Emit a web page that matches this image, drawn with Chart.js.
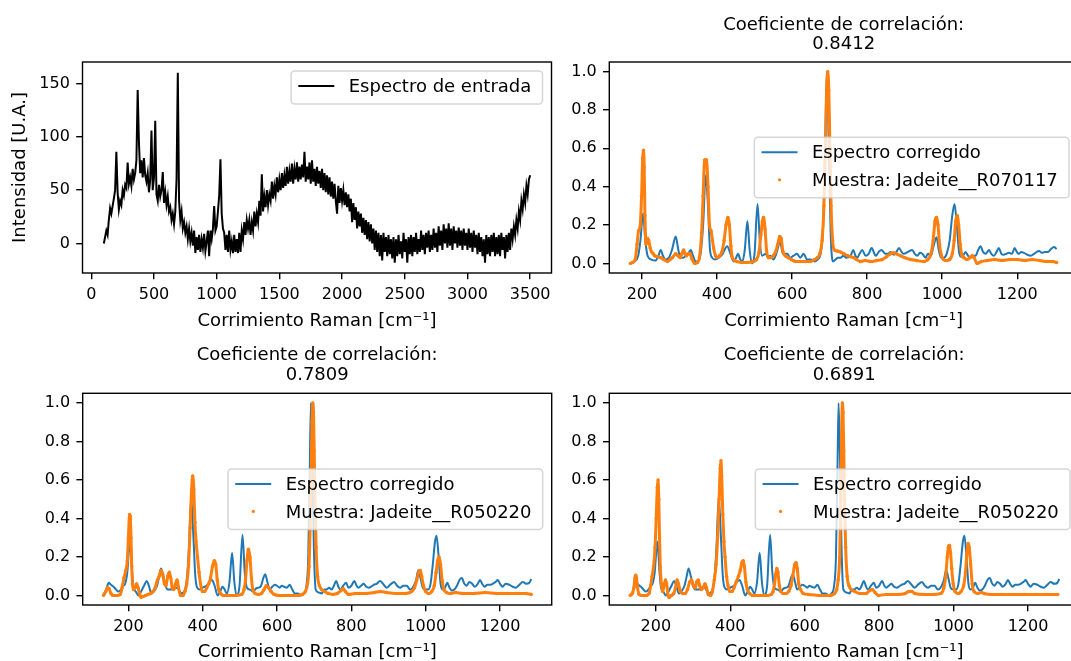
<!DOCTYPE html>
<html>
<head>
<meta charset="utf-8">
<script src="https://cdn.jsdelivr.net/npm/chart.js@4"></script>
<style>
    html, body { margin: 0; padding: 0; background: #fff; }
    body { width: 1071px; height: 661px; overflow: hidden; position: relative; }
    canvas { position: absolute; }
</style>
</head>
<body>
<canvas id="inputChart" width="560" height="335" style="left:0;top:0"></canvas>
<canvas id="matchChart1" width="530" height="335" style="left:560px;top:0"></canvas>
<canvas id="matchChart2" width="560" height="335" style="left:0;top:335px"></canvas>
<canvas id="matchChart3" width="530" height="335" style="left:560px;top:335px"></canvas>
<script>
// ---- data ----
const xLabel = 'Corrimiento Raman [cm\u207B\u00B9]';
const yLabel = 'Intensidad [U.A.]';
const titleLabel = 'Coeficiente de correlación:';
const correlations = ['0.8412', '0.7809', '0.6891'];
const sampleNames = ['Jadeite__R070117', 'Jadeite__R050220', 'Jadeite__R050220'];

const inputXTicks = [0, 500, 1000, 1500, 2000, 2500, 3000, 3500];
const inputYTicks = [0, 50, 100, 150];
const matchXTicks = [200, 400, 600, 800, 1000, 1200];
const matchYTicks = [0, 0.2, 0.4, 0.6, 0.8, 1.0];

// input spectrum (raw, noisy)
const inputSpectrum = [
    [100,0],[110,6],[120,12],[130,8],[140,22],[150,33],[160,28],[170,35],[180,42],[190,50],
    [200,86],[210,48],[220,32],[230,40],[240,36],[250,50],[260,45],[270,55],[280,52],[290,76],
    [300,56],[310,62],[320,54],[330,70],[340,60],[350,66],[360,78],[370,144],[380,95],[390,66],
    [400,78],[410,62],[420,80],[430,64],[440,58],[450,66],[460,48],[470,60],[480,106],[490,50],
    [500,62],[510,115],[520,46],[530,40],[540,55],[550,44],[560,50],[570,67],[580,38],[590,48],
    [600,36],[610,44],[620,30],[630,34],[640,22],[650,28],[660,18],[670,30],[680,60],[690,160],
    [700,40],[710,22],[720,30],[730,14],[740,20],[750,10],[760,16],[770,4],[780,14],[790,2],
    [800,10],[810,-2],[820,12],[830,-9],[840,6],[850,-6],[860,8],[870,-8],[880,4],[890,-4],
    [900,9],[910,-7],[920,2],[930,12],[940,-12],[950,12],[960,4],[970,14],[980,35],[990,12],
    [1000,16],[1010,30],[1020,45],[1030,79],[1040,28],[1050,14],[1060,10],[1070,-6],[1080,8],[1090,-8],
    [1100,12],[1110,-6],[1120,2],[1130,-9],[1140,8],[1150,-8],[1160,4],[1170,-9],[1180,10],[1190,-8],
    [1200,12],[1210,4],[1220,20],[1230,8],[1240,22],[1250,14],
    [1260,22],[1270,8],[1280,20],[1290,12],[1300,30],[1310,16],[1320,28],[1330,20],[1340,40],[1350,26],
    [1360,65],[1370,30],[1380,44],[1390,34],[1400,50],[1410,36],[1420,46],[1430,40],[1440,58],[1450,42],
    [1460,54],[1470,46],[1480,62],[1490,48],[1500,60],[1510,50],[1520,66],[1530,52],[1540,64],[1550,54],
    [1560,72],[1570,56],[1580,68],[1590,58],[1600,75],[1610,56],[1620,70],[1630,60],[1640,76],[1650,58],
    [1660,72],[1670,60],[1680,74],[1690,62],[1700,86],[1710,58],[1720,72],[1730,60],[1740,76],[1750,56],
    [1760,78],[1770,58],[1780,70],[1790,54],[1800,72],[1810,56],[1820,68],[1830,52],[1840,70],[1850,50],
    [1860,66],[1870,48],[1880,64],[1890,46],[1900,62],[1910,44],[1920,58],[1930,42],[1940,56],[1950,40],
    [1960,28],[1970,54],[1980,38],[1990,52],[2000,40],[2010,50],[2020,36],[2030,48],[2040,34],[2050,46],
    [2060,30],[2070,42],[2080,20],[2090,38],[2100,22],[2110,34],[2120,14],[2130,30],[2140,16],[2150,28],
    [2160,10],[2170,24],[2180,8],[2190,22],[2200,4],[2210,20],[2220,2],[2230,18],[2240,0],[2250,14],
    [2260,-6],[2270,12],[2280,-8],[2290,10],[2300,-12],[2310,8],[2320,-16],[2330,10],[2340,-8],[2350,6],
    [2360,-12],[2370,8],[2380,-10],[2390,4],[2400,-14],[2410,6],[2420,-18],[2430,4],[2440,-12],[2450,8],
    [2460,-10],[2470,2],[2480,-14],[2490,10],[2500,-8],[2510,4],[2520,-18],[2530,6],[2540,-10],[2550,8],
    [2560,-12],[2570,6],[2580,-8],[2590,10],[2600,-10],[2610,4],[2620,-8],[2630,12],[2640,-6],[2650,8],
    [2660,-10],[2670,10],[2680,-4],[2690,12],[2700,-8],[2710,8],[2720,-6],[2730,14],[2740,-4],[2750,10],
    [2760,-8],[2770,16],[2780,-2],[2790,12],[2800,-6],[2810,18],[2820,0],[2830,14],[2840,-4],[2850,19],
    [2860,-2],[2870,14],[2880,-6],[2890,16],[2900,0],[2910,12],[2920,-4],[2930,15],[2940,-2],[2950,12],
    [2960,-6],[2970,14],[2980,-2],[2990,10],[3000,-6],[3010,14],[3020,-4],[3030,10],[3040,-8],[3050,12],
    [3060,-4],[3070,8],[3080,-10],[3090,10],[3100,-8],[3110,6],[3120,-12],[3130,4],[3140,-18],[3150,8],
    [3160,-10],[3170,6],[3180,-12],[3190,8],[3200,-8],[3210,10],[3220,-12],[3230,6],[3240,-10],[3250,8],
    [3260,-12],[3270,10],[3280,-6],[3290,6],[3300,-14],[3310,8],[3320,-8],[3330,10],[3340,-6],[3350,14],
    [3360,4],[3370,16],[3380,8],[3390,22],[3400,14],[3410,30],[3420,22],[3430,40],[3440,32],[3450,46],
    [3460,38],[3470,54],[3480,46],[3490,60],[3500,64]
];

// corrected spectrum, range used against R070117
const correctedA = [
    [170,0],[180,0.01],[190,0.04],[196,0.12],[203,0.26],[209,0.12],[215,0.04],[225,0.02],[236,0.015],[244,0.04],
    [250,0.07],[256,0.04],[263,0.02],[272,0.03],[280,0.07],[290,0.14],[297,0.07],[303,0.03],[310,0.03],[317,0.04],
    [323,0.05],[330,0.07],[336,0.04],[343,0.01],[350,0.01],[357,0.06],[363,0.2],[370,0.46],[376,0.3],[381,0.08],
    [387,0.03],[395,0.02],[405,0.03],[415,0.05],[427,0.09],[436,0.05],[444,0.01],[451,0.03],[456,0.05],[462,0.02],
    [468,0.01],[474,0.07],[481,0.22],[487,0.07],[493,0],[500,0.05],[508,0.31],[514,0.12],[520,0.04],[530,0.05],
    [536,0.03],[542,0.04],[550,0.02],[558,0.05],[568,0.11],[576,0.05],[587,0.05],[595,0.03],[604,0.04],[613,0.05],
    [622,0.03],[631,0.05],[640,0.02],[650,0.02],[660,0.01],[668,0.02],[676,0.05],[683,0.2],[688,0.6],[693,1.0],
    [698,0.6],[703,0.15],[709,0.01],[716,0.02],[722,0.03],[729,0.03],[737,0.04],[745,0.03],[756,0.04],[763,0.07],
    [769,0.04],[774,0.03],[780,0.05],[787,0.07],[796,0.04],[804,0.05],[812,0.08],[823,0.04],[831,0.06],[838,0.07],
    [849,0.05],[856,0.05],[862,0.06],[871,0.045],[878,0.06],[885,0.08],[892,0.06],[898,0.05],[909,0.06],[920,0.07],
    [927,0.05],[934,0.04],[941,0.055],[947,0.05],[956,0.03],[962,0.05],[970,0.04],[977,0.09],[985,0.136],[991,0.07],
    [997,0.03],[1004,0.03],[1012,0.05],[1020,0.12],[1027,0.25],[1033,0.31],[1039,0.2],[1045,0.06],[1050,0.035],[1056,0.04],
    [1062,0.06],[1069,0.04],[1076,0.03],[1082,0.04],[1089,0.04],[1096,0.07],[1102,0.09],[1109,0.06],[1116,0.05],[1125,0.07],
    [1131,0.05],[1138,0.04],[1145,0.06],[1151,0.08],[1158,0.05],[1164,0.045],[1171,0.05],[1178,0.055],[1186,0.05],[1193,0.08],
    [1199,0.06],[1204,0.05],[1211,0.06],[1218,0.055],[1227,0.045],[1236,0.04],[1245,0.05],[1252,0.06],[1258,0.065],[1266,0.055],
    [1274,0.06],[1282,0.06],[1290,0.075],[1298,0.085],[1305,0.075]
];

// reference R070117
const sampleA = [
    [169,0],[175,0.005],[182,0.02],[187,0.1],[191,0.17],[195,0.19],[199,0.35],[202,0.55],[204,0.59],[206,0.5],
    [208,0.25],[211,0.1],[215,0.13],[218,0.12],[222,0.08],[226,0.06],[230,0.05],[234,0.04],[242,0.035],[250,0.03],
    [258,0.02],[268,0.01],[275,0.02],[281,0.03],[290,0.05],[296,0.04],[302,0.03],[306,0.05],[311,0.07],[315,0.05],
    [319,0.04],[324,0.05],[328,0.05],[334,0.02],[341,0],[348,0.005],[353,0.03],[359,0.16],[363,0.35],[367,0.54],
    [372,0.54],[376,0.4],[380,0.2],[384,0.17],[388,0.12],[391,0.08],[396,0.04],[400,0.03],[407,0.04],[413,0.06],
    [419,0.12],[424,0.2],[429,0.24],[433,0.2],[437,0.09],[441,0.03],[447,0.015],[453,0.01],[465,0.005],[480,0.005],
    [497,0.01],[505,0.02],[512,0.06],[517,0.15],[521,0.22],[524,0.24],[528,0.18],[532,0.07],[537,0.03],[544,0.03],
    [550,0.04],[556,0.06],[562,0.1],[567,0.14],[571,0.13],[576,0.06],[582,0.04],[590,0.03],[598,0.02],[610,0.01],
    [622,0.01],[635,0.01],[649,0.01],[660,0.02],[667,0.03],[674,0.05],[680,0.12],[685,0.3],[689,0.6],[692,0.9],
    [695,1.0],[698,0.9],[701,0.6],[704,0.3],[708,0.12],[713,0.07],[720,0.065],[728,0.06],[738,0.05],[748,0.04],
    [756,0.035],[764,0.03],[772,0.02],[782,0.01],[795,0.015],[810,0.01],[825,0.015],[840,0.02],[852,0.035],[862,0.05],
    [870,0.055],[878,0.05],[889,0.04],[900,0.03],[916,0.02],[932,0.015],[952,0.01],[962,0.02],[970,0.05],[976,0.12],
    [981,0.22],[985,0.24],[989,0.2],[993,0.1],[998,0.04],[1004,0.02],[1012,0.015],[1020,0.02],[1027,0.05],[1032,0.12],
    [1036,0.22],[1040,0.25],[1044,0.2],[1048,0.1],[1053,0.04],[1058,0.03],[1066,0.02],[1074,0.03],[1080,0.04],[1085,0.03],
    [1093,0],[1105,0.01],[1120,0.015],[1140,0.02],[1160,0.015],[1180,0.02],[1200,0.02],[1220,0.015],[1240,0.02],[1260,0.015],
    [1280,0.01],[1295,0.01],[1305,0.005]
];

// corrected spectrum, range used against R050220 (both lower panels)
const correctedB = [
    [133,0],[140,0.03],[147,0.065],[153,0.055],[160,0.045],[167,0.03],[173,0.02],[180,0.03],[186,0.05],[191,0.06],
    [197,0.12],[204,0.28],[210,0.12],[214,0.04],[220,0.02],[227,0],[234,0.02],[242,0.05],[249,0.075],[255,0.05],
    [262,0.01],[270,0.025],[277,0.05],[283,0.1],[288,0.14],[294,0.1],[300,0.05],[306,0.03],[314,0.03],[322,0.035],
    [330,0.04],[337,0.025],[343,0.01],[350,0.02],[357,0.08],[363,0.25],[369,0.51],[375,0.3],[380,0.1],[385,0.04],
    [392,0.03],[400,0.04],[410,0.05],[418,0.07],[425,0.08],[432,0.05],[440,0],[447,0.02],[453,0.045],[459,0.03],
    [465,0.01],[472,0.07],[479,0.22],[485,0.07],[491,0],[499,0.05],[507,0.315],[513,0.12],[519,0.04],[527,0.03],
    [536,0.02],[543,0.035],[550,0.04],[557,0.05],[563,0.09],[568,0.11],[574,0.07],[580,0.03],[587,0.045],[594,0.055],
    [600,0.05],[607,0.04],[613,0.05],[619,0.045],[626,0.04],[634,0.055],[641,0.03],[648,0.01],[656,0.01],[664,0],
    [672,0.01],[679,0.05],[684,0.2],[688,0.65],[691,1.0],[695,0.7],[699,0.25],[704,0.03],[712,0.015],[720,0.01],
    [727,0.03],[733,0.03],[740,0.04],[747,0.03],[753,0.05],[759,0.075],[765,0.045],[770,0.03],[778,0.05],[786,0.065],
    [792,0.04],[800,0.05],[808,0.075],[814,0.05],[819,0.04],[826,0.05],[833,0.06],[840,0.045],[847,0.04],[853,0.045],
    [860,0.055],[868,0.06],[877,0.075],[885,0.06],[895,0.04],[904,0.055],[915,0.07],[923,0.05],[931,0.04],[940,0.05],
    [949,0.05],[958,0.03],[965,0.04],[974,0.08],[980,0.13],[986,0.09],[992,0.04],[999,0.03],[1006,0.03],[1013,0.06],
    [1019,0.16],[1025,0.28],[1029,0.31],[1034,0.22],[1040,0.06],[1046,0.03],[1052,0.04],[1058,0.065],[1064,0.04],[1070,0.025],
    [1077,0.03],[1084,0.05],[1091,0.08],[1097,0.09],[1104,0.06],[1110,0.05],[1118,0.07],[1125,0.06],[1132,0.045],[1140,0.06],
    [1146,0.08],[1152,0.06],[1158,0.045],[1166,0.055],[1174,0.055],[1180,0.06],[1188,0.07],[1194,0.08],[1200,0.06],[1207,0.045],
    [1215,0.06],[1225,0.055],[1234,0.045],[1243,0.04],[1252,0.055],[1261,0.07],[1270,0.06],[1279,0.065],[1284,0.085]
];

// reference R050220, lower left panel
const sampleB = [
    [133,0],[139,0.02],[144,0.04],[148,0.035],[153,0.01],[158,0],[170,0],[178,0.005],[183,0.04],[188,0.09],
    [193,0.13],[197,0.18],[200,0.3],[203,0.42],[205,0.41],[207,0.3],[209,0.15],[211,0.06],[214,0.03],[218,0.04],
    [222,0.06],[226,0.04],[230,0.01],[234,-0.01],[240,-0.005],[246,0],[253,0.005],[260,0.01],[266,0.02],[272,0.04],
    [278,0.08],[283,0.1],[288,0.13],[292,0.11],[297,0.06],[301,0.05],[306,0.1],[310,0.12],[314,0.09],[318,0.04],
    [322,0.03],[327,0.06],[331,0.08],[335,0.04],[340,0],[347,0],[352,0.02],[357,0.06],[362,0.16],[366,0.35],
    [370,0.55],[373,0.62],[376,0.55],[379,0.38],[382,0.28],[386,0.2],[390,0.12],[394,0.06],[399,0.02],[405,0.02],
    [411,0.04],[416,0.06],[421,0.09],[426,0.15],[431,0.18],[435,0.16],[439,0.08],[443,0.03],[448,0.01],[455,0],
    [470,0],[490,0],[505,0.005],[511,0.03],[515,0.08],[519,0.18],[523,0.24],[527,0.2],[531,0.09],[535,0.03],
    [541,0.01],[550,0.005],[558,0.01],[565,0.03],[571,0.05],[577,0.04],[584,0.02],[592,0.005],[605,0],[630,0],
    [655,0],[668,0.005],[676,0.02],[682,0.06],[686,0.15],[689,0.35],[692,0.65],[694,0.9],[696,1.0],[698,0.95],
    [700,0.75],[702,0.5],[705,0.25],[709,0.1],[714,0.05],[720,0.03],[728,0.02],[738,0.01],[750,0.005],[762,0.01],
    [772,0.025],[778,0.035],[784,0.02],[792,0.005],[810,0.01],[840,0.01],[862,0.015],[878,0.02],[894,0.015],[920,0.01],
    [945,0.01],[962,0.02],[970,0.04],[976,0.08],[981,0.12],[985,0.13],[989,0.1],[994,0.05],[1000,0.02],[1008,0.01],
    [1016,0.02],[1023,0.05],[1028,0.12],[1032,0.18],[1036,0.2],[1040,0.16],[1044,0.08],[1049,0.03],[1056,0.015],[1066,0.01],
    [1080,0.015],[1100,0.01],[1130,0.01],[1160,0.015],[1190,0.01],[1220,0.01],[1250,0.01],[1270,0.01],[1284,0.005]
];

// reference R050220, lower right panel
const sampleC = [
    [131,0],[137,0.01],[141,0.04],[144,0.09],[146,0.105],[148,0.09],[151,0.04],[155,0.005],[162,0],[175,0],
    [182,0.01],[186,0.05],[190,0.1],[194,0.15],[198,0.25],[201,0.4],[204,0.56],[206,0.6],[208,0.5],[210,0.3],
    [212,0.15],[215,0.06],[218,0.02],[222,0.05],[226,0.08],[229,0.06],[233,0],[236,-0.01],[242,0],[248,0.01],
    [253,0.04],[257,0.08],[261,0.06],[266,0.02],[272,0.01],[279,0.01],[285,0.03],[291,0.07],[296,0.08],[301,0.05],
    [306,0.04],[310,0.07],[314,0.08],[318,0.05],[322,0.03],[327,0.04],[332,0.06],[336,0.04],[341,0.005],[347,0],
    [352,0.02],[357,0.08],[362,0.16],[366,0.3],[370,0.5],[373,0.66],[375,0.7],[377,0.62],[380,0.42],[383,0.28],
    [386,0.2],[390,0.1],[394,0.05],[399,0.02],[405,0.02],[410,0.04],[416,0.07],[422,0.1],[427,0.13],[431,0.17],
    [435,0.18],[438,0.15],[442,0.07],[446,0.03],[452,0.01],[460,0],[480,0],[500,0],[510,0.005],[515,0.02],
    [519,0.06],[522,0.11],[525,0.14],[528,0.12],[532,0.05],[536,0.02],[542,0.01],[550,0.01],[557,0.02],[563,0.05],
    [568,0.1],[573,0.16],[577,0.17],[580,0.14],[584,0.06],[589,0.03],[596,0.01],[610,0.005],[640,0],[670,0],
    [680,0.01],[686,0.03],[690,0.08],[694,0.2],[697,0.5],[699,0.8],[701,1.0],[703,0.95],[705,0.75],[707,0.5],
    [710,0.25],[714,0.1],[719,0.05],[725,0.03],[735,0.02],[748,0.01],[765,0.01],[775,0.025],[782,0.03],[789,0.015],
    [798,0],[820,0.005],[850,0.005],[870,0.01],[880,0.02],[888,0.02],[896,0.01],[920,0.005],[950,0.005],[966,0.01],
    [974,0.04],[979,0.1],[983,0.2],[986,0.25],[989,0.26],[992,0.22],[995,0.14],[999,0.06],[1004,0.02],[1012,0.01],
    [1020,0.02],[1027,0.05],[1032,0.12],[1036,0.22],[1039,0.27],[1042,0.25],[1046,0.16],[1050,0.06],[1055,0.02],[1065,0.01],
    [1075,0.015],[1082,0.01],[1100,0.005],[1130,0.005],[1160,0.005],[1190,0.005],[1220,0.005],[1250,0.005],[1280,0.005]
];

// ---- styling ----
const BLUE = '#1f77b4';
const ORANGE = '#ff7f0e';
const FONT = '"DejaVu Sans", "Liberation Sans", sans-serif';
Chart.defaults.font.family = FONT;
Chart.defaults.color = '#000';

const toPoints = arr => arr.map(p => ({ x: p[0], y: p[1] }));

// full box around the axes (matplotlib spines)
const axesFrame = {
    id: 'axesFrame',
    afterDatasetsDraw(chart) {
        const { ctx, chartArea: a } = chart;
        ctx.save();
        ctx.strokeStyle = '#000';
        ctx.lineWidth = 1.4;
        ctx.strokeRect(a.left, a.top, a.right - a.left, a.bottom - a.top);
        ctx.restore();
    }
};

// legend drawn inside the plot area, like matplotlib's
const boxLegend = {
    id: 'boxLegend',
    afterDraw(chart, args, opts) {
        if (!opts || !opts.items) return;
        const { ctx, chartArea: a } = chart;
        const fs = opts.fontSize || 18;
        const pad = 0.4 * fs, handle = 2 * fs, gap = 0.8 * fs;
        const rowH = 1.03 * fs, spacing = 0.5 * fs, margin = 0.5 * fs;
        ctx.save();
        ctx.font = fs + 'px ' + FONT;
        const tw = Math.max(...opts.items.map(it => ctx.measureText(it.label).width));
        const w = 2 * pad + handle + gap + tw + 4;
        const h = 2 * pad + opts.items.length * rowH + (opts.items.length - 1) * spacing;
        const x = a.right - margin - w;
        const y = opts.loc === 'upper right' ? a.top + margin : (a.top + a.bottom) / 2 - h / 2;
        const r = 0.2 * fs;

        ctx.beginPath();
        ctx.moveTo(x + r, y);
        ctx.arcTo(x + w, y, x + w, y + h, r);
        ctx.arcTo(x + w, y + h, x, y + h, r);
        ctx.arcTo(x, y + h, x, y, r);
        ctx.arcTo(x, y, x + w, y, r);
        ctx.closePath();
        ctx.fillStyle = 'rgba(255,255,255,0.8)';
        ctx.fill();
        ctx.strokeStyle = 'rgba(204,204,204,0.8)';
        ctx.lineWidth = 1.5;
        ctx.stroke();

        opts.items.forEach((it, i) => {
            const cy = y + pad + i * (rowH + spacing) + rowH / 2;
            const hx = x + pad;
            if (it.kind === 'line') {
                ctx.beginPath();
                ctx.moveTo(hx, cy - 1.5);
                ctx.lineTo(hx + handle, cy - 1.5);
                ctx.strokeStyle = it.color;
                ctx.lineWidth = 2;
                ctx.stroke();
            } else {
                ctx.beginPath();
                ctx.arc(hx + handle / 2, cy - 1.5, 1.6, 0, Math.PI * 2);
                ctx.fillStyle = it.color;
                ctx.fill();
            }
            ctx.fillStyle = '#000';
            ctx.textBaseline = 'middle';
            ctx.textAlign = 'left';
            ctx.fillText(it.label, hx + handle + gap, cy);
        });
        ctx.restore();
    }
};

function buildChart(canvasId, cfg) {
    const ctx = document.getElementById(canvasId).getContext('2d');
    return new Chart(ctx, {
        type: 'scatter',
        data: { datasets: cfg.datasets },
        options: {
            responsive: false,
            devicePixelRatio: 1,
            animation: false,
            events: [],
            layout: { padding: cfg.padding },
            plugins: {
                legend: { display: false },
                tooltip: { enabled: false },
                title: cfg.title ? {
                    display: true,
                    text: cfg.title,
                    fullSize: false,
                    color: '#000',
                    font: { size: 18, weight: 'normal', lineHeight: 1.1 },
                    padding: cfg.titlePadding
                } : { display: false },
                boxLegend: cfg.legend
            },
            scales: {
                x: {
                    type: 'linear',
                    min: cfg.xRange[0],
                    max: cfg.xRange[1],
                    afterBuildTicks: s => { s.ticks = cfg.xTicks.map(v => ({ value: v })); },
                    afterFit: s => { s.height = cfg.xAxisHeight; },
                    ticks: { font: { size: 16 }, color: '#000', padding: 6.3, maxRotation: 0, autoSkip: false, callback: v => String(v) },
                    grid: { drawOnChartArea: false, drawTicks: true, tickLength: 6.3, color: '#000', lineWidth: 1.4 },
                    border: { display: false },
                    title: { display: true, text: xLabel, color: '#000', font: { size: 18 }, padding: { top: 0, bottom: cfg.xTitlePad } }
                },
                y: {
                    type: 'linear',
                    min: cfg.yRange[0],
                    max: cfg.yRange[1],
                    afterBuildTicks: s => { s.ticks = cfg.yTicks.map(v => ({ value: v })); },
                    afterFit: s => { s.width = cfg.yAxisWidth; },
                    ticks: { font: { size: 16 }, color: '#000', padding: 6.3, autoSkip: false, callback: cfg.yFormat },
                    grid: { drawOnChartArea: false, drawTicks: true, tickLength: 6.3, color: '#000', lineWidth: 1.4 },
                    border: { display: false },
                    title: cfg.yTitle ? { display: true, text: cfg.yTitle, color: '#000', font: { size: 18 }, padding: { top: 9.2, bottom: 0 } } : { display: false }
                }
            }
        },
        plugins: [axesFrame, boxLegend]
    });
}

function correctedSet(points) {
    return {
        label: 'Espectro corregido',
        data: toPoints(points),
        showLine: true,
        borderColor: BLUE,
        borderWidth: 2,
        pointRadius: 0,
        cubicInterpolationMode: 'monotone',
        order: 1
    };
}

function sampleSet(points, name) {
    return {
        label: 'Muestra: ' + name,
        data: toPoints(points),
        showLine: true,
        borderColor: ORANGE,
        backgroundColor: ORANGE,
        borderWidth: 3,
        pointRadius: 1.7,
        pointBorderWidth: 0,
        cubicInterpolationMode: 'monotone',
        order: 0
    };
}

function matchLegend(name) {
    return {
        loc: 'center right',
        fontSize: 18,
        items: [
            { label: 'Espectro corregido', kind: 'line', color: BLUE },
            { label: 'Muestra: ' + name, kind: 'dot', color: ORANGE }
        ]
    };
}

const oneDecimal = v => Number(v).toFixed(1);

// top left: input spectrum
buildChart('inputChart', {
    datasets: [{
        label: 'Espectro de entrada',
        data: toPoints(inputSpectrum),
        showLine: true,
        borderColor: '#000',
        borderWidth: 2,
        pointRadius: 0
    }],
    padding: { left: 0, top: 62, right: 8.5, bottom: 0 },
    xRange: [-70, 3670], yRange: [-27.7, 170.2],
    xTicks: inputXTicks, yTicks: inputYTicks,
    yFormat: v => String(v),
    xAxisHeight: 62, yAxisWidth: 82.5, xTitlePad: 2.5,
    yTitle: yLabel,
    legend: { loc: 'upper right', fontSize: 18, items: [{ label: 'Espectro de entrada', kind: 'line', color: '#000' }] }
});

// top right
buildChart('matchChart1', {
    datasets: [correctedSet(correctedA), sampleSet(sampleA, sampleNames[0])],
    padding: { left: 0, top: 0, right: 12, bottom: 0 },
    title: [titleLabel, correlations[0]],
    titlePadding: { top: 15, bottom: 7.4 },
    xRange: [113, 1362], yRange: [-0.05, 1.05],
    xTicks: matchXTicks, yTicks: matchYTicks, yFormat: oneDecimal,
    xAxisHeight: 62, yAxisWidth: 49.3, xTitlePad: 2.5,
    legend: matchLegend(sampleNames[0])
});

// bottom left
buildChart('matchChart2', {
    datasets: [correctedSet(correctedB), sampleSet(sampleB, sampleNames[1])],
    padding: { left: 0, top: 0, right: 8.3, bottom: 0 },
    title: [titleLabel, correlations[1]],
    titlePadding: { top: 10.6, bottom: 8.1 },
    xRange: [77, 1339], yRange: [-0.05, 1.05],
    xTicks: matchXTicks, yTicks: matchYTicks, yFormat: oneDecimal,
    xAxisHeight: 65, yAxisWidth: 82.7, xTitlePad: 6.7,
    legend: matchLegend(sampleNames[1])
});

// bottom right
buildChart('matchChart3', {
    datasets: [correctedSet(correctedB), sampleSet(sampleC, sampleNames[2])],
    padding: { left: 0, top: 0, right: 11, bottom: 0 },
    title: [titleLabel, correlations[2]],
    titlePadding: { top: 10.6, bottom: 8.1 },
    xRange: [75, 1337], yRange: [-0.05, 1.05],
    xTicks: matchXTicks, yTicks: matchYTicks, yFormat: oneDecimal,
    xAxisHeight: 65, yAxisWidth: 49.3, xTitlePad: 6.7,
    legend: matchLegend(sampleNames[2])
});
</script>
</body>
</html>
